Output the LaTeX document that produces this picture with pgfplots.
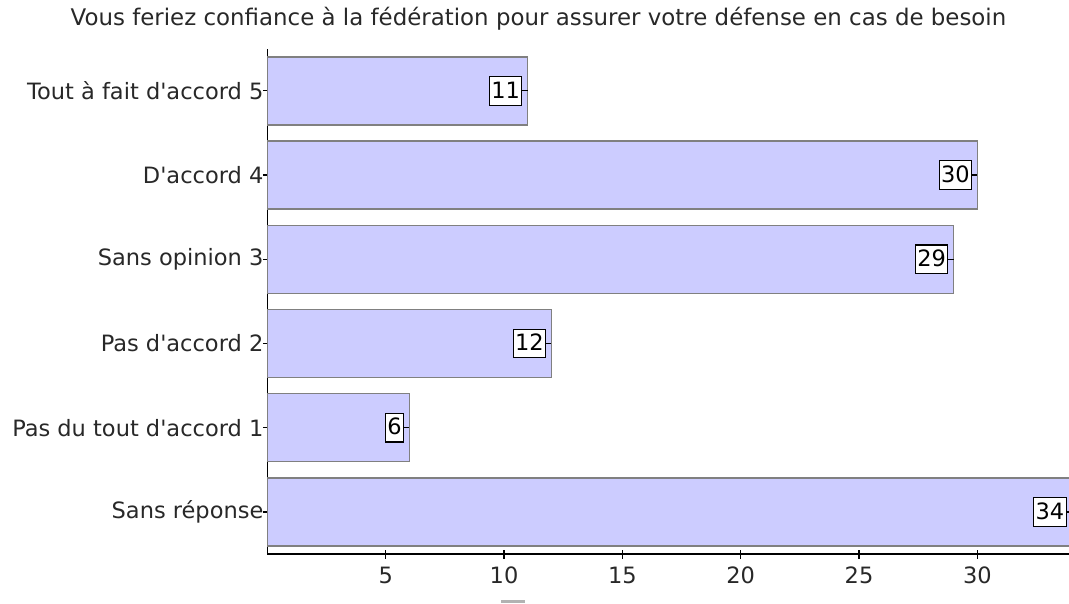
\documentclass[border=0pt]{standalone}
\usepackage{pgfplots}
\pgfplotsset{compat=1.18}
\usepackage{fontspec}
\setmainfont{DejaVu Sans}
\definecolor{barfill}{RGB}{204,204,255}
\definecolor{barline}{RGB}{128,128,128}
\definecolor{txt}{RGB}{40,40,40}
% short dash left of the bar end, joining the value box to the bar
\pgfdeclareplotmark{leftdash}{%
  \pgfpathmoveto{\pgfqpoint{-5.3pt}{0pt}}%
  \pgfpathlineto{\pgfqpoint{0pt}{0pt}}%
  \pgfusepathqstroke}
\newcommand{\lbl}{\fontsize{22.5}{27}\selectfont}
\newcommand{\q}{\textquotesingle}
\begin{document}
\begin{tikzpicture}[x=1pt,y=1pt]
\useasboundingbox (0,0) rectangle (1069,603);
\begin{axis}[
    at={(267.4pt,49pt)}, anchor=south west,
    scale only axis,
    width=804.6pt, height=505.2pt,
    xmin=0, xmax=34,
    ymin=-0.5, ymax=5.5,
    axis lines*=left,
    axis line style={black, line width=1.5pt},
    xtick={5,10,...,30},
    ytick={0,...,5},
    yticklabels={Sans réponse, Pas du tout d\q accord 1, Pas d\q accord 2,
                 Sans opinion 3, D\q accord 4, Tout à fait d\q accord 5},
    tick align=center,
    major tick length=9pt,
    tick style={black, line width=1.2pt},
    ticklabel style={font=\lbl, text=txt},
    xticklabel style={yshift=-5pt},
    yticklabel style={xshift=4pt},
    /pgf/number format/assume math mode=true,
    clip=false,
]
\addplot[xbar, bar width=68pt, fill=barfill, draw=barline, line width=1.5pt,
    mark=leftdash, mark options={black, line width=1.2pt, solid},
    point meta=x, nodes near coords,
    nodes near coords style={anchor=east, xshift=-5.3pt, draw=black, fill=white,
        line width=1.2pt, inner xsep=1.8pt, inner ysep=4.5pt,
        text height=17pt, text depth=2.5pt, font=\lbl, text=black}]
  coordinates {(34,0) (6,1) (12,2) (29,3) (30,4) (11,5)};
\end{axis}
\node[font=\fontsize{22.9}{27}\selectfont, text=txt, anchor=base] at (538.5,577)
  {Vous feriez confiance à la fédération pour assurer votre défense en cas de besoin};
\fill[gray!60] (500.7,0) rectangle (525,2.7);
\end{tikzpicture}
\end{document}
